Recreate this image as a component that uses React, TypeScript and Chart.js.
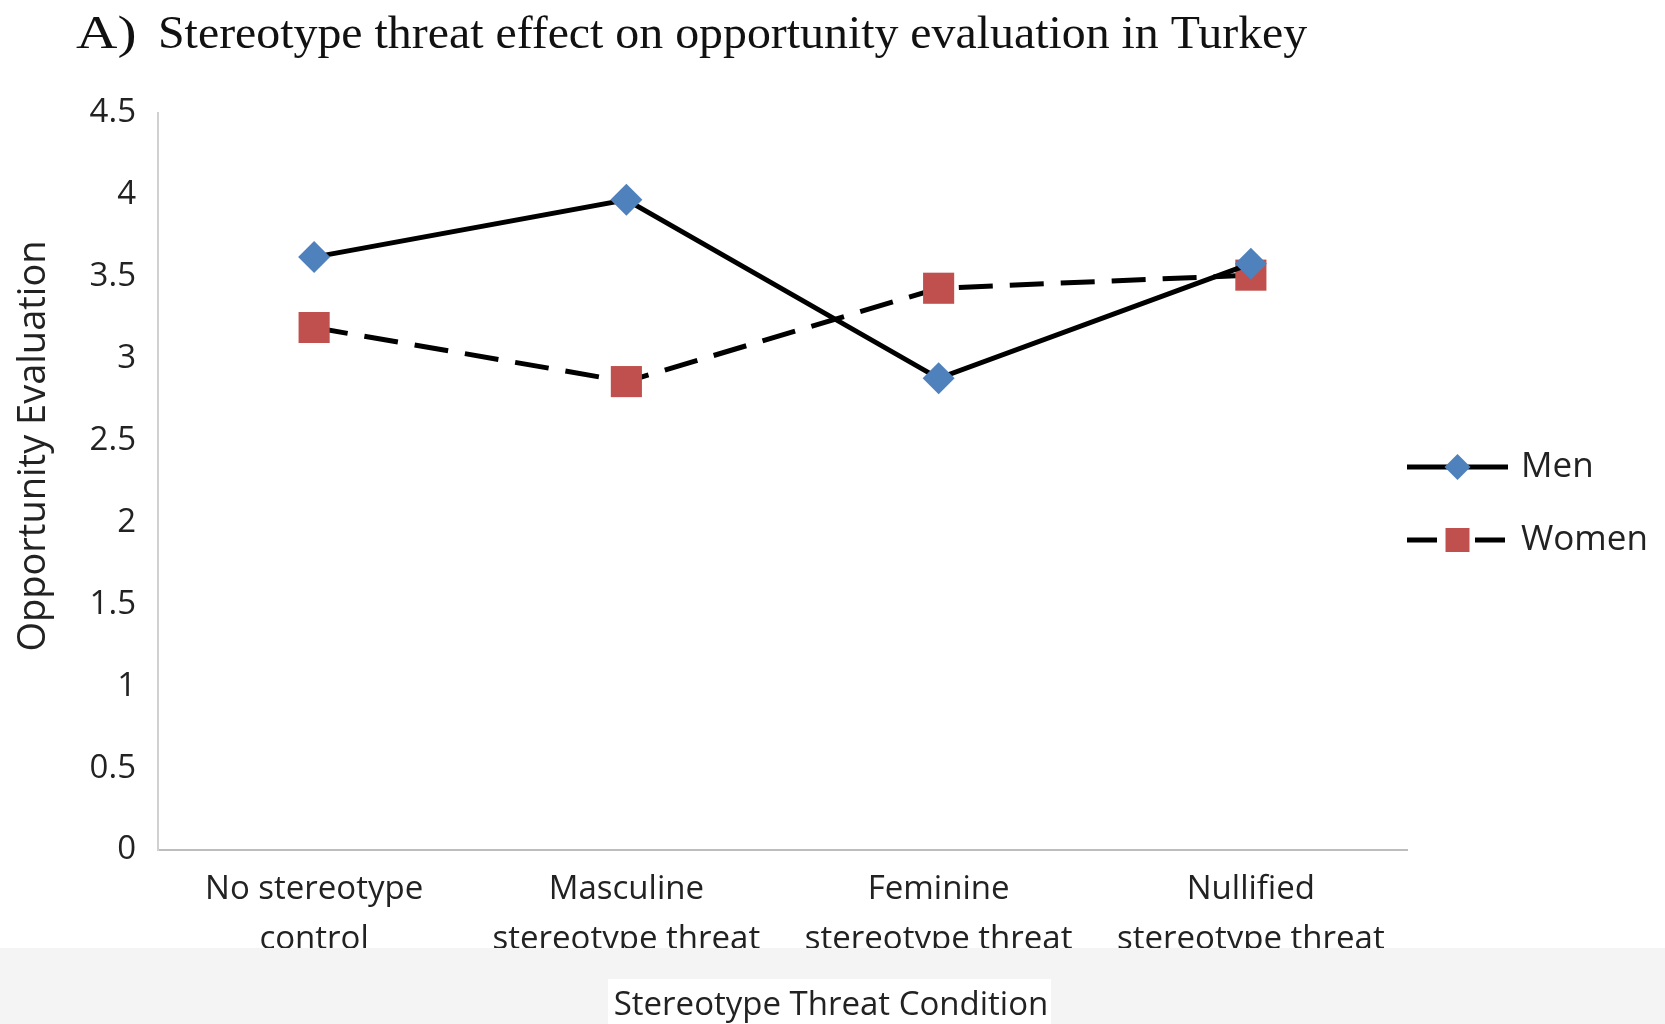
import React, { useEffect, useRef } from "react";
import { Chart, registerables } from "chart.js";

Chart.register(...registerables);

const TITLE_PREFIX = "A)";
const TITLE_TEXT = "Stereotype threat effect on opportunity evaluation in Turkey";
const Y_TITLE = "Opportunity Evaluation";
const X_TITLE = "Stereotype Threat Condition";

const CATEGORIES: string[][] = [
  ["No stereotype", "control"],
  ["Masculine", "stereotype threat"],
  ["Feminine", "stereotype threat"],
  ["Nullified", "stereotype threat"],
];

const MEN_VALUES = [3.62, 3.97, 2.88, 3.58];
const WOMEN_VALUES = [3.19, 2.86, 3.43, 3.51];

const Y_MIN = 0;
const Y_MAX = 4.5;
const Y_STEP = 0.5;

const SANS = "'Open Sans', 'Noto Sans', sans-serif";
const SERIF = "'Liberation Serif', 'DejaVu Serif', serif";
const BLUE = "#4F81BD";
const RED = "#C0504D";

const W = 1665;
const H = 1024;

function stretchedText(ctx: CanvasRenderingContext2D, text: string, x: number, y: number, sx: number) {
  ctx.save();
  ctx.translate(x, y);
  ctx.scale(sx, 1);
  ctx.fillText(text, 0, 0);
  ctx.restore();
}

const overlayPlugin = {
  id: "overlay",
  afterDraw(chart: any) {
    const ctx = chart.ctx as CanvasRenderingContext2D;
    const area = chart.chartArea;
    ctx.save();

    // Title
    ctx.fillStyle = "#111";
    ctx.textBaseline = "alphabetic";
    ctx.textAlign = "left";
    ctx.font = `47px ${SERIF}`;
    stretchedText(ctx, TITLE_PREFIX, 76, 48, 1.22);
    ctx.font = `46px ${SERIF}`;
    stretchedText(ctx, TITLE_TEXT, 158, 48, 1.04);

    // Y axis title
    ctx.save();
    ctx.translate(34, 446);
    ctx.rotate(-Math.PI / 2);
    ctx.font = `38px ${SANS}`;
    ctx.textAlign = "center";
    ctx.textBaseline = "middle";
    ctx.fillStyle = "#222";
    ctx.fillText(Y_TITLE, 0, 0);
    ctx.restore();

    // Legend
    const ds = chart.data.datasets;
    const lx0 = area.right;
    const lx1 = area.right + 101;
    const lmid = (lx0 + lx1) / 2;
    const rows = [467, 540];
    ds.forEach((d: any, i: number) => {
      const y = rows[i];
      ctx.save();
      ctx.strokeStyle = d.borderColor;
      ctx.lineWidth = 5;
      if (d.borderDash && d.borderDash.length) ctx.setLineDash([30, 38]);
      ctx.beginPath();
      ctx.moveTo(lx0, y);
      ctx.lineTo(lx1, y);
      ctx.stroke();
      ctx.setLineDash([]);
      ctx.fillStyle = d.pointBackgroundColor;
      ctx.beginPath();
      if (d.pointStyle === "rectRot") {
        const r = 13;
        ctx.moveTo(lmid, y - r);
        ctx.lineTo(lmid + r, y);
        ctx.lineTo(lmid, y + r);
        ctx.lineTo(lmid - r, y);
        ctx.closePath();
      } else {
        const s = 12;
        ctx.rect(lmid - s, y - s, 2 * s, 2 * s);
      }
      ctx.fill();
      ctx.restore();
      ctx.font = `35px ${SANS}`;
      ctx.fillStyle = "#222";
      ctx.textAlign = "left";
      ctx.textBaseline = "middle";
      ctx.fillText(d.label, lx1 + 13, y);
    });

    // Bottom band
    ctx.fillStyle = "#f4f4f4";
    ctx.fillRect(0, 948, W, H - 948);
    ctx.fillStyle = "#ffffff";
    ctx.fillRect(608, 979, 443, H - 979);
    ctx.font = `33px ${SANS}`;
    ctx.fillStyle = "#222";
    ctx.textAlign = "center";
    ctx.textBaseline = "middle";
    ctx.fillText(X_TITLE, 831, 1006);

    ctx.restore();
  },
};

export default function App() {
  const ref = useRef<HTMLCanvasElement | null>(null);

  useEffect(() => {
    document.body.style.margin = "0";
    document.body.style.background = "#ffffff";
    const canvas = ref.current;
    if (!canvas) return;
    const chart = new Chart(canvas, {
      type: "line",
      data: {
        labels: CATEGORIES as any,
        datasets: [
          {
            label: "Men",
            data: MEN_VALUES,
            borderColor: "#000000",
            borderWidth: 5,
            pointStyle: "rectRot",
            pointRadius: 16,
            pointBackgroundColor: BLUE,
            pointBorderColor: BLUE,
            pointBorderWidth: 0,
            tension: 0,
          } as any,
          {
            label: "Women",
            data: WOMEN_VALUES,
            borderColor: "#000000",
            borderWidth: 5,
            borderDash: [34, 17],
            pointStyle: "rect",
            pointRadius: 22,
            pointBackgroundColor: RED,
            pointBorderColor: RED,
            pointBorderWidth: 0,
            tension: 0,
          } as any,
        ],
      },
      options: {
        animation: false,
        responsive: false,
        maintainAspectRatio: false,
        devicePixelRatio: 1,
        layout: { padding: { left: 0, right: 258, top: 113, bottom: 0 } },
        plugins: {
          legend: { display: false },
          title: { display: false },
          tooltip: { enabled: false },
        },
        scales: {
          x: {
            type: "category",
            offset: true,
            grid: { display: false, drawTicks: false },
            border: { display: true, color: "#bdbdbd", width: 2 },
            ticks: {
              color: "#222",
              font: { family: SANS, size: 33, lineHeight: 1.5 },
              padding: 15,
              maxRotation: 0,
              autoSkip: false,
            },
            afterFit: (s: any) => {
              s.height = H - 850;
            },
          },
          y: {
            min: Y_MIN,
            max: Y_MAX,
            grid: { display: false, drawTicks: false },
            border: { display: true, color: "#d0d0d0", width: 2 },
            ticks: {
              stepSize: Y_STEP,
              color: "#222",
              font: { family: SANS, size: 33 },
              padding: 22,
              callback: (v: any) => String(Number(v)),
            },
            afterFit: (s: any) => {
              s.width = 158;
            },
          },
        },
      },
      plugins: [overlayPlugin],
    });
    return () => chart.destroy();
  }, []);

  return (
    <div style={{ width: W, height: H, background: "#fff" }}>
      <canvas ref={ref} width={W} height={H} style={{ display: "block", width: W, height: H }} />
    </div>
  );
}
